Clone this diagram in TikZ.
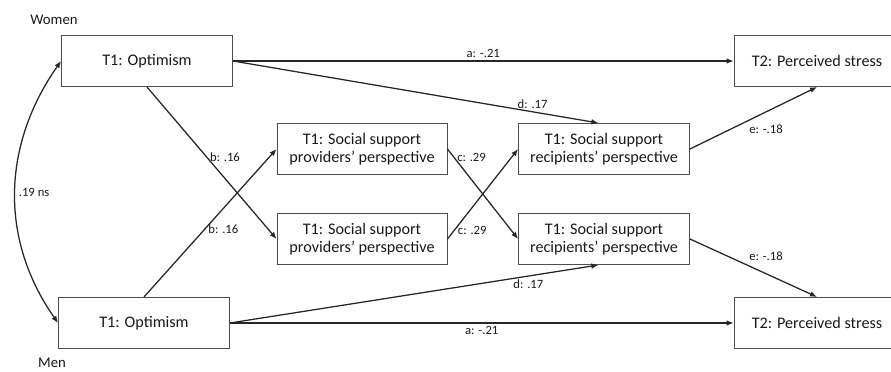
\documentclass[tikz,border=0pt]{standalone}
\usepackage{fontspec}
\setmainfont{Carlito}
\usetikzlibrary{arrows.meta}
\begin{document}
\begin{tikzpicture}[x=0.025cm, y=-0.025cm,
	box/.style={draw=black!70, line width=0.6pt, align=center, text=black!90, font=\fontsize{11.5}{13}\selectfont, minimum width=4.275cm, minimum height=1.28cm},
	lbl/.style={text=black!90, font=\fontsize{9}{10}\selectfont, inner sep=2pt},
	arr/.style={line width=0.9pt, draw=black!85, -{Latex[length=5pt, width=4pt]}}]
		\useasboundingbox (0,0) rectangle (891,372);
		\node[lbl, font=\fontsize{10.5}{12}\selectfont] (Women) at (54,20) {Women};
		\node[lbl, font=\fontsize{10.5}{12}\selectfont] (Men) at (52,363) {Men};
		\node[box] (Opt W) at (147,61) {T1: Optimism};
		\node[box] (Opt M) at (144,323) {T1: Optimism};
		\node[box, minimum width=4.25cm] (Prov W) at (362,149) {T1: Social support\\providers' perspective};
		\node[box, minimum width=4.25cm] (Prov M) at (362,239) {T1: Social support\\providers' perspective};
		\node[box] (Rec W) at (604,149) {T1: Social support\\recipients' perspective};
		\node[box] (Rec M) at (604,239) {T1: Social support\\recipients' perspective};
		\node[box, minimum width=4.15cm] (Stress W) at (817,61) {T2: Perceived stress};
		\node[box, minimum width=4.15cm] (Stress M) at (817,323) {T2: Perceived stress};
		% Arrows
		\draw[arr] (Opt W) -- node[lbl, above] {a: -.21} (Stress W);
		\draw[arr] (Opt M) -- node[lbl, below] {a: -.21} (Stress M);
		\draw[arr] (Opt W.east) -- node[lbl, pos=0.82, above] {d: .17} ([xshift=-4]Rec W.north);
		\draw[arr] (Opt M.east) -- node[lbl, pos=0.81, below] {d: .17} ([xshift=-4]Rec M.south);
		\draw[arr] (Opt W.south) -- node[lbl, pos=0.46, right] {b: .16} (Prov M.west);
		\draw[arr] (Opt M.north) -- node[lbl, pos=0.46, right] {b: .16} (Prov W.west);
		\draw[arr] (Prov W.east) -- node[lbl, pos=0.09, right] {c: .29} (Rec M.west);
		\draw[arr] (Prov M.east) -- node[lbl, pos=0.1, right] {c: .29} (Rec W.west);
		\draw[arr] (Rec W.east) -- node[lbl, pos=0.44, below right] {e: -.18} (Stress W.south);
		\draw[arr] (Rec M.east) -- node[lbl, pos=0.44, above right] {e: -.18} (Stress M.north);
		\draw[arr, {Latex[length=5pt, width=4pt]}-{Latex[length=5pt, width=4pt]}] (Opt W.west) to[out=-125, in=125] node[lbl, right] {.19 ns} (Opt M.west);
	\end{tikzpicture}
\end{document}
